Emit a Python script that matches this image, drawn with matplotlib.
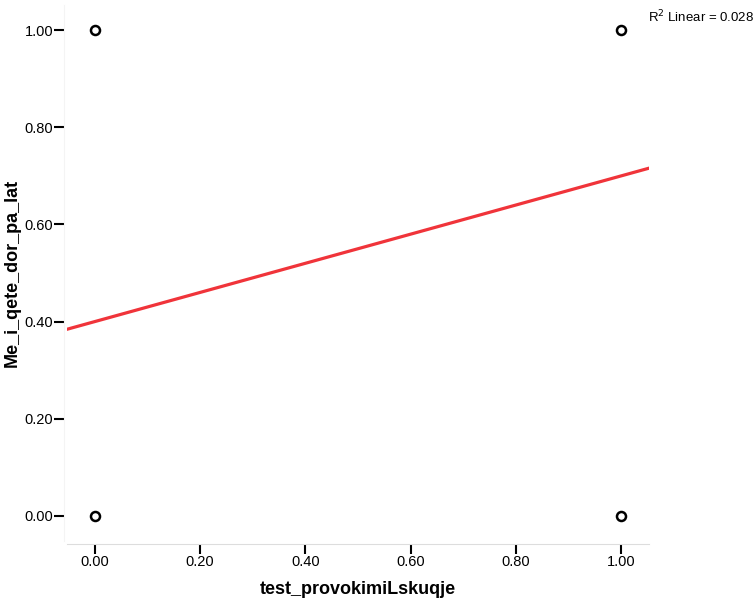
import matplotlib.pyplot as plt
import numpy as np

plt.rcParams['font.family'] = ['Liberation Sans', 'DejaVu Sans']

# observed points (binary x binary)
x_pts = [0.0, 0.0, 1.0, 1.0]
y_pts = [1.0, 0.0, 1.0, 0.0]

# linear fit
intercept = 0.40
slope = 0.30
r2 = 0.028

xlim = (-0.053, 1.053)
ylim = (-0.052, 1.052)
ticks = [0.0, 0.2, 0.4, 0.6, 0.8, 1.0]

fig = plt.figure(figsize=(7.56, 6.01), dpi=100)
ax = fig.add_axes([0.0886, 0.0998, 0.7699, 0.8919])

xf = np.array(xlim)
ax.plot(xf, intercept + slope * xf, color='#f0343a', lw=2.3, zorder=2)
ax.plot(x_pts, y_pts, 'o', ms=6.5, mfc='white', mec='black', mew=1.8,
        zorder=3, clip_on=False)

ax.set_xlim(*xlim)
ax.set_ylim(*ylim)
ax.set_xticks(ticks)
ax.set_yticks(ticks)
ax.set_xticklabels(['%.2f' % t for t in ticks])
ax.set_yticklabels(['%.2f' % t for t in ticks])

for s in ['top', 'right']:
    ax.spines[s].set_visible(False)
ax.spines['left'].set_color('#f4f4f4')
ax.spines['bottom'].set_color('#dddddd')
ax.spines['left'].set_position(('outward', 2))
ax.spines['bottom'].set_position(('outward', 2))
ax.tick_params(direction='out', length=7, width=1.5, color='black',
               labelsize=10.5, pad=1)

ax.set_xlabel('test_provokimiLskuqje', fontsize=13, fontweight='bold')
ax.set_ylabel('Me_i_qete_dor_pa_lat', fontsize=13, fontweight='bold')
ax.xaxis.set_label_coords(0.5, -0.0896)
ax.yaxis.set_label_coords(-0.0945, 0.5)
ax.xaxis.label.set_va('center')
ax.yaxis.label.set_va('center')

fig.text(0.998, 0.985, 'R$^2$ Linear = %.3f' % r2, ha='right', va='top',
         fontsize=9.5)

fig.savefig('out.png', dpi=100)
